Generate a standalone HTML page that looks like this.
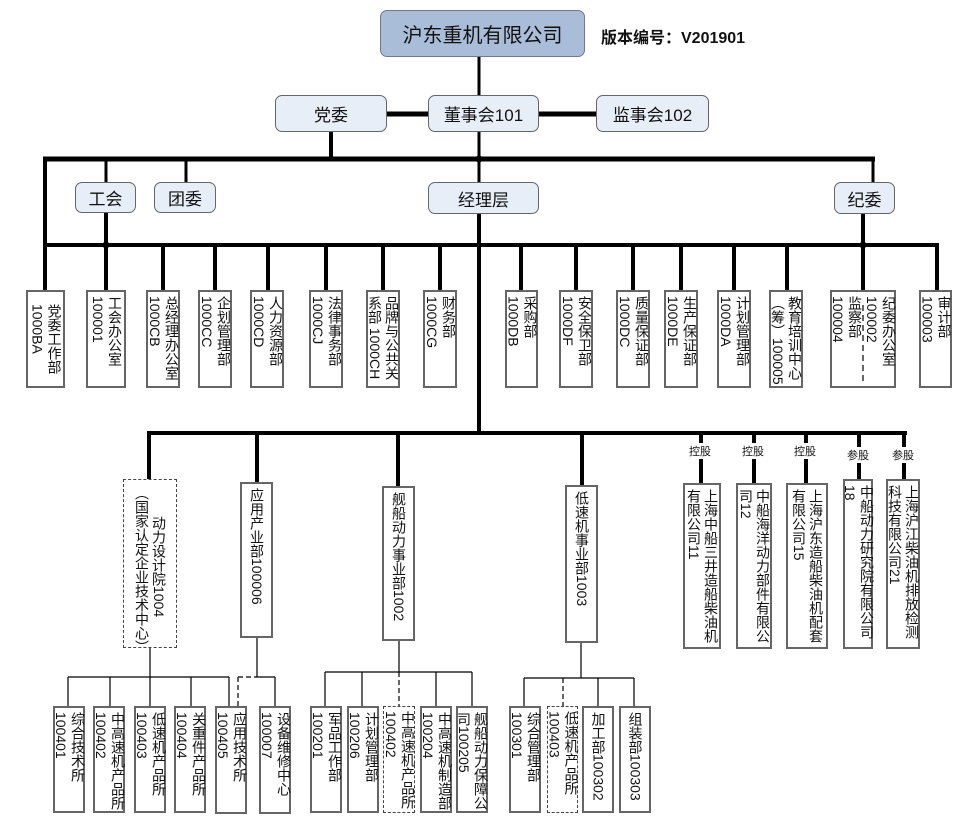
<!DOCTYPE html>
<html><head><meta charset="utf-8"><style>
body{margin:0;background:#fff;width:968px;height:830px;position:relative;overflow:hidden;font-family:"Liberation Sans","Noto Sans CJK SC",sans-serif;color:#111}
.b{position:absolute;border:2px solid #666;background:#fff;box-sizing:border-box;display:flex;justify-content:center;align-items:flex-start;padding-top:4px}
.d{border:1.5px dashed #444}
.v{writing-mode:vertical-rl;font-size:14px;line-height:17px;white-space:nowrap}
.r{position:absolute;background:#e7eef8;border:1.5px solid #666;border-radius:7px;box-sizing:border-box;display:flex;align-items:center;justify-content:center;font-size:17px;font-family:"Liberation Sans","Noto Sans CJK SC",sans-serif}
.lab{position:absolute;font-size:11px;background:#fff}
svg{position:absolute;left:0;top:0}
</style></head><body>
<svg width="968" height="830">
<g stroke="#000" fill="none">
<line x1="479" y1="57" x2="479" y2="95" stroke-width="3"/>
<line x1="479" y1="132" x2="479" y2="182" stroke-width="3"/>
<line x1="387" y1="114" x2="428" y2="114" stroke-width="5"/>
<line x1="539" y1="114" x2="596" y2="114" stroke-width="5"/>
<line x1="331" y1="132" x2="331" y2="159" stroke-width="4"/>
<line x1="43" y1="159" x2="875" y2="159" stroke-width="5"/>
<line x1="106" y1="159" x2="106" y2="182" stroke-width="3"/>
<line x1="186" y1="159" x2="186" y2="182" stroke-width="3"/>
<line x1="873" y1="159" x2="873" y2="182" stroke-width="3"/>
<line x1="45" y1="157" x2="45" y2="290" stroke-width="4"/>
<line x1="106" y1="213" x2="106" y2="290" stroke-width="4"/>
<line x1="863" y1="213" x2="863" y2="292" stroke-width="4"/>
<line x1="479" y1="213" x2="479" y2="434" stroke-width="4"/>
<line x1="43" y1="245" x2="939" y2="245" stroke-width="4"/>
<line x1="937" y1="243" x2="937" y2="290" stroke-width="4"/>
<g stroke-width="4">
<line x1="163" y1="245" x2="163" y2="290"/><line x1="215" y1="245" x2="215" y2="290"/>
<line x1="268" y1="245" x2="268" y2="290"/><line x1="326" y1="245" x2="326" y2="290"/>
<line x1="383" y1="245" x2="383" y2="290"/><line x1="440" y1="245" x2="440" y2="290"/>
<line x1="521" y1="245" x2="521" y2="290"/><line x1="576" y1="245" x2="576" y2="290"/>
<line x1="633" y1="245" x2="633" y2="290"/><line x1="681" y1="245" x2="681" y2="290"/>
<line x1="734" y1="245" x2="734" y2="290"/><line x1="787" y1="245" x2="787" y2="290"/>
</g>
<line x1="147" y1="433" x2="907" y2="433" stroke-width="4"/>
<g stroke-width="4">
<line x1="149" y1="433" x2="149" y2="480"/><line x1="257" y1="433" x2="257" y2="482"/>
<line x1="398" y1="433" x2="398" y2="486"/><line x1="582" y1="433" x2="582" y2="485"/>
<line x1="701" y1="433" x2="701" y2="444"/><line x1="701" y1="458" x2="701" y2="484"/>
<line x1="754" y1="433" x2="754" y2="444"/><line x1="754" y1="458" x2="754" y2="484"/>
<line x1="806" y1="433" x2="806" y2="444"/><line x1="806" y1="458" x2="806" y2="484"/>
<line x1="859" y1="433" x2="859" y2="447"/><line x1="859" y1="461" x2="859" y2="480"/>
<line x1="904" y1="433" x2="904" y2="447"/><line x1="904" y1="461" x2="904" y2="480"/>
</g>
<g stroke-width="1.2">
<line x1="150" y1="648" x2="150" y2="677"/><line x1="68" y1="677" x2="229" y2="677"/>
<line x1="68" y1="677" x2="68" y2="706"/><line x1="110" y1="677" x2="110" y2="706"/>
<line x1="150" y1="677" x2="150" y2="706"/><line x1="191" y1="677" x2="191" y2="706"/>
<line x1="229" y1="677" x2="229" y2="706"/>
<line x1="257" y1="638" x2="257" y2="677"/><line x1="257" y1="677" x2="275" y2="677"/><line x1="275" y1="677" x2="275" y2="706"/>
<line x1="238" y1="677" x2="257" y2="677" stroke-dasharray="5,3"/><line x1="238" y1="677" x2="238" y2="706" stroke-dasharray="5,3"/>
<line x1="399" y1="641" x2="399" y2="672"/><line x1="325" y1="672" x2="472" y2="672"/>
<line x1="325" y1="672" x2="325" y2="706"/><line x1="362" y1="672" x2="362" y2="706"/>
<line x1="399" y1="672" x2="399" y2="706" stroke-dasharray="5,3"/>
<line x1="436" y1="672" x2="436" y2="706"/><line x1="472" y1="672" x2="472" y2="706"/>
<line x1="581" y1="643" x2="581" y2="678"/><line x1="524" y1="678" x2="634" y2="678"/>
<line x1="524" y1="678" x2="524" y2="706"/><line x1="563" y1="678" x2="563" y2="706" stroke-dasharray="5,3"/>
<line x1="598" y1="678" x2="598" y2="706"/><line x1="634" y1="678" x2="634" y2="706"/>
</g>
<line x1="863" y1="305" x2="863" y2="385" stroke-width="1.2" stroke-dasharray="6,4"/>
</g>
<circle cx="479" cy="159" r="3.5"/><circle cx="106" cy="245" r="3.5"/><circle cx="863" cy="245" r="3.5"/>
</svg>

<div class="r" style="left:380px;top:10px;width:205px;height:47px;background:#a9bdd8;font-size:20px;border-color:#778">沪东重机有限公司</div>
<div style="position:absolute;left:601px;top:24px;font-size:16px;font-weight:bold">版本编号：V201901</div>
<div class="r" style="left:275px;top:95px;width:112px;height:37px">党委</div>
<div class="r" style="left:428px;top:95px;width:111px;height:37px">董事会101</div>
<div class="r" style="left:596px;top:95px;width:113px;height:37px">监事会102</div>
<div class="r" style="left:75px;top:182px;width:61px;height:31px">工会</div>
<div class="r" style="left:154px;top:182px;width:62px;height:31px">团委</div>
<div class="r" style="left:428px;top:182px;width:111px;height:32px">经理层</div>
<div class="r" style="left:834px;top:182px;width:61px;height:32px">纪委</div>

<div class="b" style="left:26px;top:290px;width:39px;height:98px"><div class="v" style="padding-top:8px">党委工作部<br>1000BA</div></div>
<div class="b" style="left:86px;top:290px;width:40px;height:98px"><div class="v">工会办公室<br>100001</div></div>
<div class="b" style="left:146px;top:290px;width:34px;height:98px"><div class="v">总经理办公室<br>1000CB</div></div>
<div class="b" style="left:198px;top:290px;width:34px;height:98px"><div class="v">企划管理部<br>1000CC</div></div>
<div class="b" style="left:250px;top:290px;width:34px;height:98px"><div class="v">人力资源部<br>1000CD</div></div>
<div class="b" style="left:309px;top:290px;width:34px;height:98px"><div class="v">法律事务部<br>1000CJ</div></div>
<div class="b" style="left:366px;top:290px;width:34px;height:98px"><div class="v">品牌与公共关<br>系部 1000CH</div></div>
<div class="b" style="left:423px;top:290px;width:34px;height:98px"><div class="v">财务部<br>1000CG</div></div>
<div class="b" style="left:505px;top:290px;width:33px;height:98px"><div class="v">采购部<br>1000DB</div></div>
<div class="b" style="left:559px;top:290px;width:34px;height:98px"><div class="v">安全保卫部<br>1000DF</div></div>
<div class="b" style="left:616px;top:290px;width:34px;height:98px"><div class="v">质量保证部<br>1000DC</div></div>
<div class="b" style="left:664px;top:290px;width:34px;height:98px"><div class="v">生产保证部<br>1000DE</div></div>
<div class="b" style="left:717px;top:290px;width:34px;height:98px"><div class="v">计划管理部<br>1000DA</div></div>
<div class="b" style="left:769px;top:290px;width:34px;height:98px"><div class="v">教育培训中心<br>（筹）100005</div></div>
<div class="b" style="left:830px;top:290px;width:66px;height:98px;background:transparent"><div class="v">纪委办公室<br>100002<span style="display:inline-block;width:1px"></span><br><span style="margin-right:12px">监察部</span><br>100004</div></div>
<div class="b" style="left:919px;top:290px;width:33px;height:98px"><div class="v">审计部<br>100003</div></div>

<div class="b d" style="left:123px;top:479px;width:54px;height:169px;padding-top:6px"><div class="v"><span style="padding-top:30px;display:inline-block">动力设计院1004</span><br>（国家认定企业技术中心）</div></div>
<div class="b" style="left:240px;top:482px;width:33px;height:156px"><div class="v">应用产业部100006</div></div>
<div class="b" style="left:382px;top:486px;width:33px;height:155px"><div class="v">舰船动力事业部1002</div></div>
<div class="b" style="left:565px;top:485px;width:33px;height:158px"><div class="v">低速机事业部1003</div></div>

<div class="lab" style="left:689px;top:443px">控股</div>
<div class="lab" style="left:742px;top:443px">控股</div>
<div class="lab" style="left:794px;top:443px">控股</div>
<div class="lab" style="left:847px;top:447px">参股</div>
<div class="lab" style="left:892px;top:447px">参股</div>
<div class="b" style="left:683px;top:483px;width:38px;height:166px"><div class="v">上海中船三井造船柴油机<br>有限公司11</div></div>
<div class="b" style="left:736px;top:483px;width:36px;height:166px"><div class="v">中船海洋动力部件有限公<br>司12</div></div>
<div class="b" style="left:786px;top:483px;width:42px;height:166px"><div class="v">上海沪东造船柴油机配套<br>有限公司15</div></div>
<div class="b" style="left:843px;top:479px;width:30px;height:170px"><div class="v">中船动力研究院有限公司<br>18</div></div>
<div class="b" style="left:886px;top:479px;width:34px;height:170px"><div class="v">上海沪江柴油机排放检测<br>科技有限公司21</div></div>

<div class="b" style="left:53px;top:706px;width:32px;height:107px"><div class="v">综合技术所<br>100401</div></div>
<div class="b" style="left:93px;top:706px;width:32px;height:107px"><div class="v">中高速机产品所<br>100402</div></div>
<div class="b" style="left:134px;top:706px;width:32px;height:107px"><div class="v">低速机产品所<br>100403</div></div>
<div class="b" style="left:174px;top:706px;width:32px;height:107px"><div class="v">关重件产品所<br>100404</div></div>
<div class="b" style="left:215px;top:706px;width:32px;height:108px"><div class="v">应用技术所<br>100405</div></div>
<div class="b" style="left:259px;top:706px;width:32px;height:108px"><div class="v">设备维修中心<br>100007</div></div>
<div class="b" style="left:310px;top:706px;width:32px;height:107px"><div class="v">军品工作部<br>100201</div></div>
<div class="b" style="left:347px;top:706px;width:32px;height:107px"><div class="v">计划管理部<br>100206</div></div>
<div class="b d" style="left:383px;top:706px;width:32px;height:107px"><div class="v">中高速机产品所<br>100402</div></div>
<div class="b" style="left:420px;top:706px;width:32px;height:107px"><div class="v">中高速机制造部<br>100204</div></div>
<div class="b" style="left:456px;top:706px;width:32px;height:107px"><div class="v">舰船动力保障公<br>司100205</div></div>
<div class="b" style="left:509px;top:706px;width:32px;height:107px"><div class="v">综合管理部<br>100301</div></div>
<div class="b d" style="left:547px;top:706px;width:31px;height:107px"><div class="v">低速机产品所<br>100403</div></div>
<div class="b" style="left:582px;top:706px;width:32px;height:107px"><div class="v">加工部100302</div></div>
<div class="b" style="left:619px;top:706px;width:32px;height:107px"><div class="v">组装部100303</div></div>
</body></html>
